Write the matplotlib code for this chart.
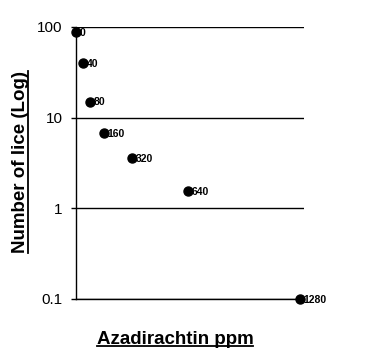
import matplotlib
matplotlib.use("Agg")
import matplotlib.pyplot as plt
from matplotlib.lines import Line2D

# data
ppm = [0, 40, 80, 160, 320, 640, 1280]
lice = [88, 40, 15, 6.7, 3.6, 1.55, 0.1]
point_labels = ["0", "40", "80", "160", "320", "640", "1280"]
y_ticks = [0.1, 1, 10, 100]
y_tick_labels = ["0.1", "1", "10", "100"]

plt.rcParams['font.family'] = ['Liberation Sans', 'DejaVu Sans']

fig = plt.figure(figsize=(3.73, 3.59), dpi=100, facecolor='white')
ax = fig.add_axes([76 / 373, 1 - 299 / 359, 228 / 373, 272 / 359])

ax.plot(ppm, lice, 'o', color='black', markersize=6.5, clip_on=False, zorder=3)
for x, y, lab in zip(ppm, lice, point_labels):
    ax.annotate(lab, (x, y), xytext=(2.5, -0.5), textcoords='offset points',
                ha='left', va='center', fontsize=7.5, fontweight='bold')

ax.set_yscale('log')
ax.set_ylim(0.1, 100)
ax.set_xlim(0, 1302)
ax.set_yticks(y_ticks)
ax.set_yticklabels(y_tick_labels, fontsize=11)
ax.yaxis.set_minor_locator(matplotlib.ticker.NullLocator())
ax.set_xticks([])
ax.tick_params(axis='y', length=3.5, width=1, pad=6, color='black')
ax.grid(axis='y', color='black', linewidth=1)
ax.set_axisbelow(True)
for s in ['top', 'right']:
    ax.spines[s].set_visible(False)
for s in ['left', 'bottom']:
    ax.spines[s].set_linewidth(1)

# underlined bold axis titles
xt = fig.text(175 / 373, 1 - 339 / 359, "Azadirachtin ppm", ha='center', va='center',
              fontsize=13.5, fontweight='bold')
yt = fig.text(21 / 373, 1 - 162 / 359, "Number of lice (Log)", ha='center', va='center',
              rotation=90, fontsize=13.5, fontweight='bold')

fig.canvas.draw()
r = fig.canvas.get_renderer()
inv = fig.transFigure.inverted()
bb = xt.get_window_extent(r).transformed(inv)
fig.add_artist(Line2D([bb.x0, bb.x1], [bb.y0 + 0.004, bb.y0 + 0.004], color='black',
                      linewidth=1.3, transform=fig.transFigure))
bb = yt.get_window_extent(r).transformed(inv)
fig.add_artist(Line2D([bb.x1 - 0.003, bb.x1 - 0.003], [bb.y0, bb.y1], color='black',
                      linewidth=1.3, transform=fig.transFigure))

fig.savefig("out.png", dpi=100, facecolor='white')
